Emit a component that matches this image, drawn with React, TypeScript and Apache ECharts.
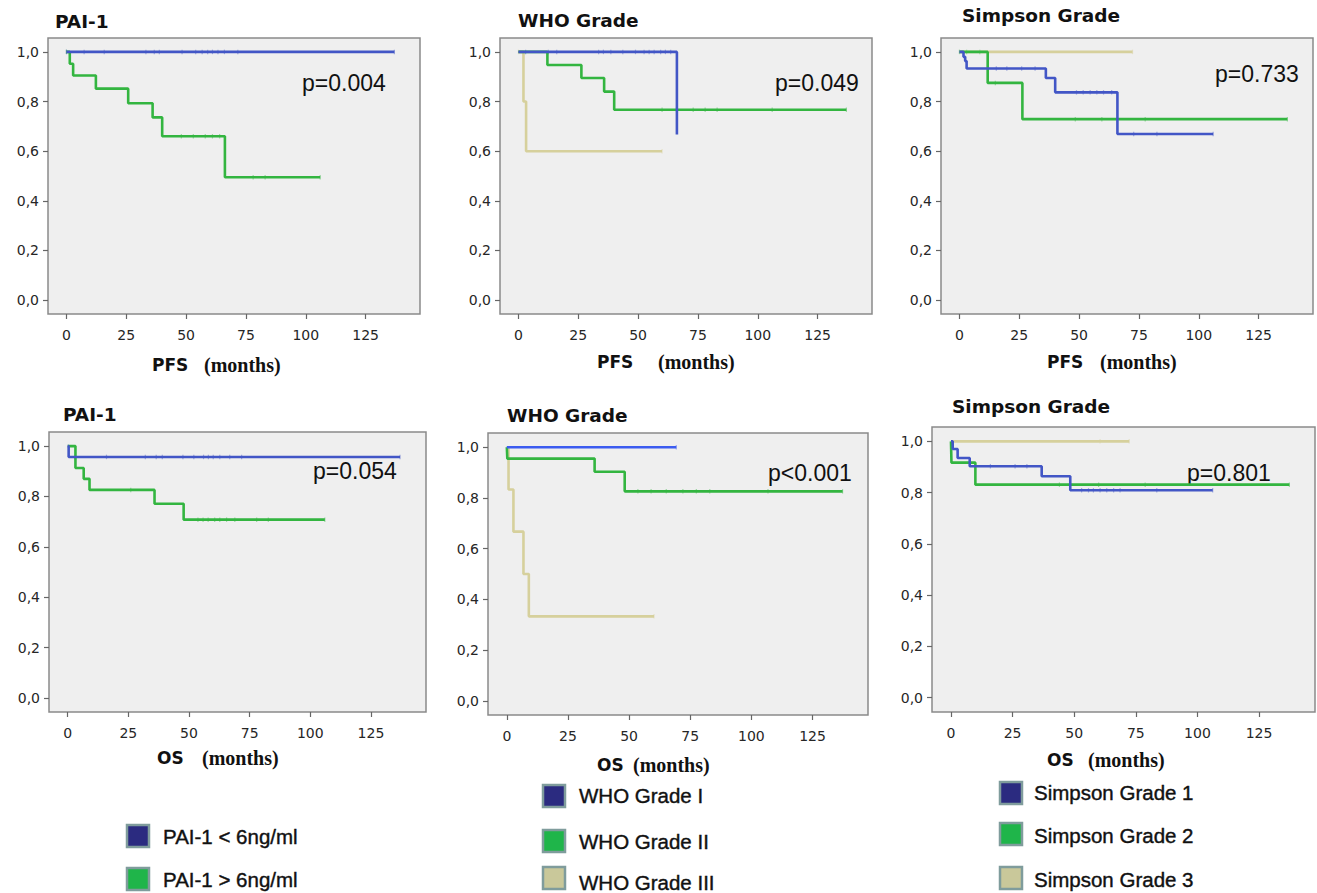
import React, { useEffect, useRef } from "react";
import * as echarts from "echarts";

// ---------- DATA ----------
const xTicks = [0, 25, 50, 75, 100, 125];
const yTicks = [0, 0.2, 0.4, 0.6, 0.8, 1.0];

const panelTitles = ["PAI-1", "WHO Grade", "Simpson Grade", "PAI-1", "WHO Grade", "Simpson Grade"];
const pValues = ["p=0.004", "p=0.049", "p=0.733", "p=0.054", "p<0.001", "p=0.801"];
const axisTitleMain = ["PFS", "PFS", "PFS", "OS", "OS", "OS"];
const axisTitleUnit = "(months)";

// Panel 1 — PFS by PAI-1
const pfsPaiLow = [[0, 1], [137, 1]];
const pfsPaiLowCens = [0, 7.4, 15.8, 33.2, 36.7, 38.8, 48.3, 54, 56.7, 59, 61, 63.3, 66, 71.6, 137];
const pfsPaiHigh = [[0, 1], [1.4, 0.952], [2.8, 0.905], [12.3, 0.852], [25.8, 0.793], [36, 0.736], [40, 0.66], [66.2, 0.495], [106, 0.495]];
const pfsPaiHighCens = [0, 48, 53, 58, 61, 64, 78, 83, 106];

// Panel 2 — PFS by WHO grade
const pfsWho1 = [[0, 1], [66.2, 0.667]];
const pfsWho1Cens = [3, 12.5, 16, 33.5, 35.5, 38.6, 43.6, 48.9, 52.5, 54.6, 56.7, 59.4, 61.4, 63.6];
const pfsWho2 = [[0, 1], [12.1, 0.947], [26.3, 0.895], [35.8, 0.84], [40, 0.767], [137, 0.767]];
const pfsWho2Cens = [60, 66, 73, 78, 83, 106, 137];
const pfsWho3 = [[0, 1], [2.1, 0.8], [3.2, 0.6], [60, 0.6]];
const pfsWho3Cens = [0, 60];

// Panel 3 — PFS by Simpson grade
const pfsSimp1 = [[0, 1], [1.7, 0.98], [2.4, 0.963], [3, 0.933], [36.1, 0.895], [40, 0.837], [66, 0.669], [106, 0.669]];
const pfsSimp1Cens = [15.4, 19.8, 26, 31.6, 48.9, 51.7, 54.6, 57.4, 60.2, 63.6, 72.8, 82.5, 106];
const pfsSimp2 = [[0, 1], [11.8, 0.875], [26.3, 0.729], [137, 0.729]];
const pfsSimp2Cens = [0, 3, 8.5, 15, 48.4, 59.5, 77.6, 137];
const pfsSimp3 = [[0, 1], [72.3, 1]];
const pfsSimp3Cens = [72.3];

// Panel 4 — OS by PAI-1
const osPaiLow = [[0, 1], [0.4, 0.957], [137, 0.957]];
const osPaiLowCens = [16, 32, 36.5, 39, 47.5, 52, 56, 58, 60, 62.7, 66.8, 71.7, 137];
const osPaiHigh = [[0, 1], [3.2, 0.913], [6.6, 0.87], [9, 0.826], [35.8, 0.771], [47.8, 0.708], [106, 0.708]];
const osPaiHighCens = [26, 53.7, 55.8, 57.9, 60.6, 62.7, 65.5, 68.9, 77.9, 82.7, 106];

// Panel 5 — OS by WHO grade
const osWho1 = [[0, 1], [69.3, 1]];
const osWho1Cens = [69.3];
const osWho2 = [[0, 1], [0.2, 0.955], [35.9, 0.903], [48.2, 0.826], [137.3, 0.826]];
const osWho2Cens = [53.6, 59, 65.2, 72, 77.5, 83, 106.8, 137.3];
const osWho3 = [[0, 1], [0.7, 0.833], [2.7, 0.667], [6.8, 0.5], [9, 0.333], [60.2, 0.333]];
const osWho3Cens = [60.2];

// Panel 6 — OS by Simpson grade
const osSimp1 = [[0, 1], [0.7, 0.97], [2.7, 0.935], [7.6, 0.903], [36.8, 0.864], [48.4, 0.809], [106.2, 0.809]];
const osSimp1Cens = [16, 26, 30.8, 53, 55.8, 57.8, 60.5, 63.2, 66, 68.6, 83.5, 106.2];
const osSimp2 = [[0, 1], [0.2, 0.917], [9.9, 0.831], [137.3, 0.831]];
const osSimp2Cens = [44, 59.9, 78.8, 137.3];
const osSimp3 = [[0, 1], [72.3, 1]];
const osSimp3Cens = [60.5, 72.3];

const legendPai = ["PAI-1 < 6ng/ml", "PAI-1 > 6ng/ml"];
const legendWho = ["WHO Grade I", "WHO Grade II", "WHO Grade III"];
const legendSimp = ["Simpson Grade 1", "Simpson Grade 2", "Simpson Grade 3"];

// ---------- STYLE ----------
const BLUE = "#4256c6";
const GREEN = "#33b540";
const TAN = "#d6d09c";
const SQ_NAVY = "#2b2b80";
const SQ_GREEN = "#1fb54a";
const SQ_TAN = "#c9c89a";

const grids = [
  { left: 48, top: 38, width: 372, height: 276 },
  { left: 500, top: 38, width: 372, height: 276 },
  { left: 941, top: 38, width: 372, height: 276 },
  { left: 49, top: 432, width: 377, height: 280 },
  { left: 488, top: 433, width: 380, height: 282 },
  { left: 932, top: 427, width: 383, height: 285 },
];

const titlePos = [[55, 21], [518, 20], [962, 15], [63, 414], [507, 415], [952, 406]];
const pPos = [[302, 83], [775, 83], [1215, 74], [313, 471], [768, 473], [1187, 473]];
const axTitlePos = [[152, 204, 365], [597, 658, 362], [1047, 1100, 362], [157, 202, 758], [597, 633, 765], [1047, 1088, 760]];

const tickFont = { fontFamily: "DejaVu Sans", fontSize: 14, fill: "#262626" };

function survAt(pts: number[][], t: number) {
  let s = pts[0][1];
  for (const p of pts) if (p[0] <= t) s = p[1];
  return s;
}

const panels = [
  [[pfsPaiHigh, pfsPaiHighCens, GREEN], [pfsPaiLow, pfsPaiLowCens, BLUE]],
  [[pfsWho3, pfsWho3Cens, TAN], [pfsWho2, pfsWho2Cens, GREEN], [pfsWho1, pfsWho1Cens, BLUE]],
  [[pfsSimp3, pfsSimp3Cens, TAN], [pfsSimp2, pfsSimp2Cens, GREEN], [pfsSimp1, pfsSimp1Cens, BLUE]],
  [[osPaiHigh, osPaiHighCens, GREEN], [osPaiLow, osPaiLowCens, BLUE]],
  [[osWho3, osWho3Cens, TAN], [osWho2, osWho2Cens, GREEN], [osWho1, osWho1Cens, "#3c5cf0"]],
  [[osSimp3, osSimp3Cens, TAN], [osSimp2, osSimp2Cens, GREEN], [osSimp1, osSimp1Cens, BLUE]],
] as any[];

function buildOption() {
  const series: any[] = [];
  panels.forEach((curves: any[], i: number) => {
    curves.forEach(([pts, cens, color]: any) => {
      series.push({
        type: "line",
        xAxisIndex: i,
        yAxisIndex: i,
        step: "end",
        data: pts,
        showSymbol: false,
        lineStyle: { color, width: 2.6 },
        itemStyle: { color },
        silent: true,
      });
      series.push({
        type: "scatter",
        xAxisIndex: i,
        yAxisIndex: i,
        data: cens.map((t: number) => [t, survAt(pts, t)]),
        symbol: "rect",
        symbolSize: [1.2, 4.5],
        itemStyle: { color, opacity: 0.45 },
        silent: true,
      });
    });
  });

  const graphic: any[] = [];
  const txt = (x: number, y: number, text: string, font: any) =>
    graphic.push({ type: "text", x, y, silent: true, style: { text, align: "left", verticalAlign: "middle", fill: "#111", ...font } });

  panelTitles.forEach((t, i) =>
    txt(titlePos[i][0], titlePos[i][1], t, { fontFamily: "DejaVu Sans", fontWeight: "bold", fontSize: 18.5 })
  );
  pValues.forEach((t, i) =>
    txt(pPos[i][0], pPos[i][1], t, { fontFamily: "Liberation Sans, Arial", fontSize: 23 })
  );
  axisTitleMain.forEach((t, i) => {
    txt(axTitlePos[i][0], axTitlePos[i][2], t, { fontFamily: "DejaVu Sans", fontWeight: "bold", fontSize: 17 });
    txt(axTitlePos[i][1], axTitlePos[i][2], axisTitleUnit, { fontFamily: "Liberation Serif, serif", fontWeight: "bold", fontSize: 20 });
  });

  const legendItem = (sqX: number, sqY: number, textX: number, textY: number, fill: string, label: string) => {
    graphic.push({
      type: "rect",
      silent: true,
      shape: { x: sqX, y: sqY, width: 22, height: 22 },
      style: { fill, stroke: "#7f9c9c", lineWidth: 2.5 },
    });
    txt(textX, textY, label, { fontFamily: "Liberation Sans, Arial", fontSize: 20.5, stroke: "#111", lineWidth: 0.4 });
  };
  legendItem(127, 825, 163, 836, SQ_NAVY, legendPai[0]);
  legendItem(127, 868, 163, 879, SQ_GREEN, legendPai[1]);
  legendItem(543, 785, 579, 795, SQ_NAVY, legendWho[0]);
  legendItem(543, 830, 579, 841, SQ_GREEN, legendWho[1]);
  legendItem(543, 867, 579, 882, SQ_TAN, legendWho[2]);
  legendItem(1000, 782, 1034, 792, SQ_NAVY, legendSimp[0]);
  legendItem(1000, 823, 1034, 835, SQ_GREEN, legendSimp[1]);
  legendItem(1000, 867, 1034, 879, SQ_TAN, legendSimp[2]);

  return {
    animation: false,
    backgroundColor: "#ffffff",
    grid: grids.map((g) => ({
      ...g,
      show: true,
      backgroundColor: "#efefef",
      borderColor: "#8a8a8a",
      borderWidth: 1.5,
      containLabel: false,
    })),
    xAxis: grids.map((_, i) => ({
      type: "value",
      gridIndex: i,
      position: "bottom",
      min: -7.7,
      max: 147.7,
      axisLine: { show: false, onZero: false },
      splitLine: { show: false },
      axisTick: { show: true, customValues: xTicks, length: 5, lineStyle: { color: "#666", width: 1.2 } },
      axisLabel: { show: false },
    })),
    yAxis: grids.map((_, i) => ({
      type: "value",
      gridIndex: i,
      position: "left",
      min: -0.056,
      max: 1.056,
      axisLine: { show: false, onZero: false },
      splitLine: { show: false },
      axisTick: { show: true, customValues: yTicks, length: 5, lineStyle: { color: "#666", width: 1.2 } },
      axisLabel: { show: false },
    })),
    series,
    graphic,
  };
}

export default function App() {
  const ref = useRef<HTMLDivElement>(null);
  useEffect(() => {
    if (!ref.current) return;
    const chart = echarts.init(ref.current, undefined, { renderer: "svg" });
    const option: any = buildOption();
    chart.setOption(option);
    // Tick labels placed through the axes' own scales
    const tickLabels: any[] = [];
    grids.forEach((g, i) => {
      xTicks.forEach((v) => {
        const px = chart.convertToPixel({ xAxisIndex: i } as any, v) as any;
        tickLabels.push({
          type: "text",
          silent: true,
          x: px,
          y: g.top + g.height + 21,
          style: { text: String(v), align: "center", verticalAlign: "middle", ...tickFont },
        });
      });
      yTicks.forEach((v) => {
        const py = chart.convertToPixel({ yAxisIndex: i } as any, v) as any;
        tickLabels.push({
          type: "text",
          silent: true,
          x: g.left - 9,
          y: py,
          style: { text: v.toFixed(1).replace(".", ","), align: "right", verticalAlign: "middle", ...tickFont },
        });
      });
    });
    chart.setOption({ graphic: [...option.graphic, ...tickLabels] });
    return () => chart.dispose();
  }, []);
  return <div ref={ref} style={{ position: "absolute", left: 0, top: 0, width: 1317, height: 893 }} />;
}
